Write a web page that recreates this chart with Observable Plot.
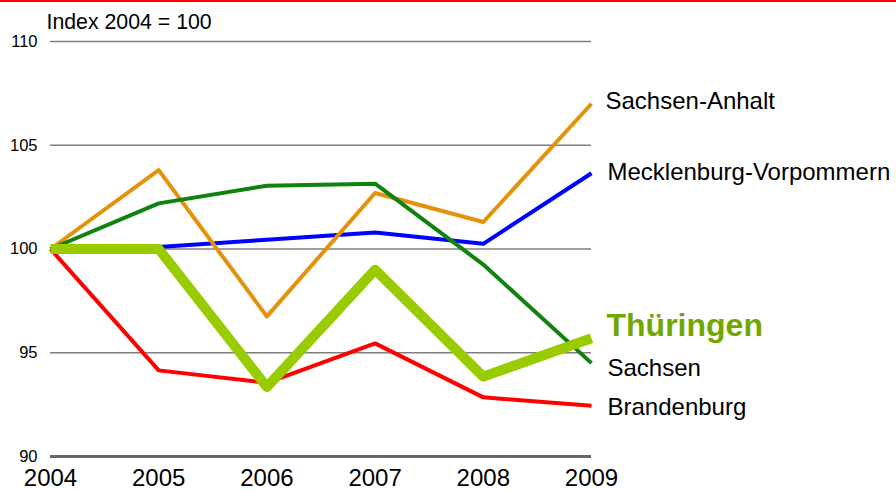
<!DOCTYPE html>
<html>
<head>
<meta charset="utf-8">
<script src="https://cdn.jsdelivr.net/npm/d3@7"></script>
<script src="https://cdn.jsdelivr.net/npm/@observablehq/plot@0.6"></script>
<style>
  html, body { margin: 0; padding: 0; background: #fff; }
  #wrap { position: relative; width: 896px; height: 490px; overflow: hidden; }
  #topbar { position: absolute; left: 0; top: 0; width: 896px; height: 2px; background: #ff0000; }
</style>
</head>
<body>
<div id="wrap"><div id="topbar"></div></div>
<script>
const years = [2004, 2005, 2006, 2007, 2008, 2009];
const yTicks = [90, 95, 100, 105, 110];
const gridValues = [95, 100, 105, 110];
const unitLabel = "Index 2004 = 100";

const seriesNames = ["Mecklenburg-Vorpommern", "Sachsen-Anhalt", "Sachsen", "Brandenburg", "Thüringen"];
const mecklenburgVorpommern = [100, 100.1, 100.45, 100.8, 100.25, 103.65];
const sachsenAnhalt = [100, 103.8, 96.75, 102.7, 101.3, 107.0];
const sachsen = [100, 102.2, 103.05, 103.15, 99.25, 94.5];
const brandenburg = [100, 94.15, 93.55, 95.45, 92.85, 92.45];
const thueringen = [100, 100, 93.35, 99.0, 93.85, 95.7];

const seriesValues = [mecklenburgVorpommern, sachsenAnhalt, sachsen, brandenburg, thueringen];
const colors = {
  "Mecklenburg-Vorpommern": "#0000ff",
  "Sachsen-Anhalt": "#e3920a",
  "Sachsen": "#0f820f",
  "Brandenburg": "#ff0000",
  "Thüringen": "#99cc00"
};
const widths = {"Mecklenburg-Vorpommern": 4, "Sachsen-Anhalt": 4, "Sachsen": 4, "Brandenburg": 4, "Thüringen": 10};
const labelStyle = {
  "Sachsen-Anhalt": {dx: 14, dy: -2, size: 24, weight: "normal", fill: "#000"},
  "Mecklenburg-Vorpommern": {dx: 16, dy: -1, size: 24, weight: "normal", fill: "#000"},
  "Thüringen": {dx: 15, dy: -12, size: 32, weight: "bold", fill: "#72a600"},
  "Sachsen": {dx: 16, dy: 5, size: 24, weight: "normal", fill: "#000"},
  "Brandenburg": {dx: 16, dy: 2, size: 24, weight: "normal", fill: "#000"}
};

const rows = [];
seriesNames.forEach((name, i) => {
  years.forEach((yr, j) => rows.push({series: name, year: yr, value: seriesValues[i][j]}));
});

const lineMarks = seriesNames.map(name =>
  Plot.line(rows.filter(d => d.series === name), {
    x: "year", y: "value",
    stroke: colors[name], strokeWidth: widths[name],
    strokeLinejoin: "round", strokeLinecap: "butt"
  })
);

const labelMarks = seriesNames.map((name, i) => {
  const s = labelStyle[name];
  return Plot.text([{name, year: years[years.length - 1], value: seriesValues[i][years.length - 1]}], {
    x: "year", y: "value", text: "name",
    textAnchor: "start", dx: s.dx, dy: s.dy,
    fontSize: s.size, fontWeight: s.weight, fill: s.fill
  });
});

const chart = Plot.plot({
  width: 896,
  height: 490,
  marginLeft: 50,
  marginRight: 305,
  marginTop: 41,
  marginBottom: 34,
  style: {fontFamily: "'Liberation Sans', Arial, sans-serif", background: "transparent", overflow: "visible"},
  x: {domain: [2004, 2009]},
  y: {domain: [90, 110]},
  marks: [
    Plot.ruleY(gridValues, {stroke: "#7f7f7f", strokeWidth: 1.5}),
    Plot.ruleY([90], {stroke: "#666666", strokeWidth: 3}),
    Plot.axisX({ticks: years, tickFormat: d => String(d), tickSize: 0, tickPadding: 12, fontSize: 24, label: null, fill: "#000"}),
    Plot.axisY({ticks: yTicks, tickSize: 0, tickPadding: 13, fontSize: 16.5, label: null, fill: "#000"}),
    Plot.text([unitLabel], {frameAnchor: "top-left", textAnchor: "start", lineAnchor: "bottom", dx: -4, dy: -13, fontSize: 21.3, fill: "#000"}),
    ...lineMarks,
    ...labelMarks
  ]
});
chart.style.position = "absolute";
chart.style.left = "0";
chart.style.top = "0";
document.getElementById("wrap").prepend(chart);
</script>
</body>
</html>
